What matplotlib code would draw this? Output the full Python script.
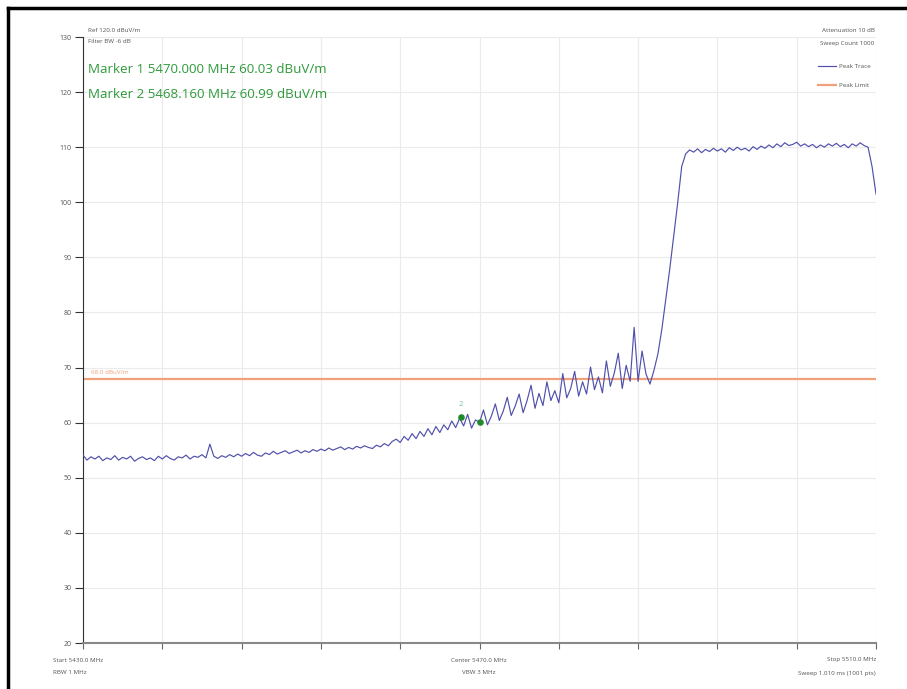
import numpy as np
import matplotlib
matplotlib.use("Agg")
import matplotlib.pyplot as plt
from matplotlib.lines import Line2D

plt.rcParams['font.family'] = ['Open Sans', 'DejaVu Sans']

# ---- data ----
f_start, f_stop = 5430.0, 5510.0
peak_trace = [
    54.1, 53.2, 53.8, 53.4, 53.9, 53.1, 53.6, 53.3, 54.0, 53.2,
    53.7, 53.4, 53.9, 53.0, 53.5, 53.8, 53.3, 53.6, 53.1, 53.9,
    53.4, 54.0, 53.5, 53.2, 53.8, 53.6, 54.1, 53.4, 53.9, 53.7,
    54.2, 53.6, 56.1, 53.9, 53.5, 54.0, 53.7, 54.2, 53.8, 54.3,
    53.9, 54.4, 54.0, 54.6, 54.1, 53.9, 54.5, 54.2, 54.8, 54.3,
    54.6, 54.9, 54.4, 54.7, 55.0, 54.5, 54.9, 54.6, 55.1, 54.8,
    55.2, 54.9, 55.4, 55.0, 55.3, 55.6, 55.1, 55.5, 55.2, 55.7,
    55.4, 55.8, 55.5, 55.3, 55.9, 55.6, 56.2, 55.8, 56.6, 57.0,
    56.4, 57.5, 56.8, 58.0, 57.1, 58.4, 57.5, 58.9, 57.8, 59.3,
    58.2, 59.6, 58.7, 60.3, 59.1, 60.8, 59.4, 61.5, 59.0, 60.5,
    60.0, 62.3, 59.6, 61.2, 63.4, 60.4, 62.1, 64.6, 61.3, 63.0,
    65.2, 61.8, 64.0, 66.8, 62.6, 65.3, 63.1, 67.4, 64.0, 65.8,
    63.6, 68.9, 64.5, 66.2, 69.3, 64.8, 67.4, 65.2, 70.1, 66.0,
    68.3, 65.4, 71.2, 66.6, 69.0, 72.6, 66.2, 70.4, 67.5, 77.3,
    67.5, 73.0, 68.8, 67.0, 69.5, 72.5, 77.0, 82.5, 88.0, 94.0,
    100.0, 106.5, 108.8, 109.5, 109.1, 109.7, 109.0, 109.6, 109.2, 109.8,
    109.3, 109.7, 109.1, 109.9, 109.4, 110.0, 109.5, 109.8, 109.3, 110.1,
    109.6, 110.2, 109.8, 110.4, 109.9, 110.6, 110.1, 110.8, 110.3, 110.5,
    110.9, 110.2, 110.6, 110.1, 110.5, 109.9, 110.4, 110.0, 110.6, 110.2,
    110.7, 110.1, 110.5, 109.9, 110.6, 110.2, 110.8, 110.3, 110.0, 106.5,
    101.5,
]
limit_level = 68.0
marker_freqs = [5470.000, 5468.160]
marker_levels = [60.03, 60.99]
marker_names = ["1", "2"]
y_ticks = [20, 30, 40, 50, 60, 70, 80, 90, 100, 110, 120, 130]

freqs = np.linspace(f_start, f_stop, len(peak_trace))

fig = plt.figure(figsize=(9.07, 6.89), dpi=100)
ax = fig.add_axes([83/907, 46/689, (876-83)/907, (643-37)/689])

ax.plot(freqs, peak_trace, color='#5050ac', lw=0.85, label='Peak Trace', zorder=3)
ax.axhline(limit_level, color='#f0a07a', lw=1.6, label='Peak Limit', zorder=2)
ax.text(5430.8, limit_level + 0.6, '68.0 dBuV/m', color='#f0a07a', fontsize=4.5, va='bottom')

ax.scatter(marker_freqs, marker_levels, color='#1f8a2a', s=14, zorder=5)
ax.text(marker_freqs[1] - 0.1, marker_levels[1] + 1.6, marker_names[1], color='#70c0b0',
        fontsize=5.5, ha='center', va='bottom')

ax.set_xlim(f_start, f_stop)
ax.set_ylim(20, 130)
ax.set_xticks(np.linspace(f_start, f_stop, 11))
ax.set_xticklabels([])
ax.set_yticks(y_ticks)
ax.set_yticklabels([str(v) for v in y_ticks], fontsize=5, color='#555555')
ax.tick_params(axis='y', length=6, width=0.8, color='#333333', pad=2)
ax.tick_params(axis='x', length=4, width=0.8, color='#666666')
ax.grid(True, color='#ebebeb', lw=0.8)
ax.set_axisbelow(True)
for s in ['top', 'right']:
    ax.spines[s].set_visible(False)
ax.spines['left'].set_color('#333333')
ax.spines['bottom'].set_color('#888888')
ax.spines['bottom'].set_linewidth(1.5)

tc = '#555555'
ax.text(0.006, 1.01, 'Ref 120.0 dBuV/m', transform=ax.transAxes, fontsize=4.5, color=tc, va='center')
ax.text(0.006, 0.993, 'Filter BW -6 dB', transform=ax.transAxes, fontsize=4.5, color=tc, va='center')
ax.text(0.006, 0.946, 'Marker 1 5470.000 MHz 60.03 dBuV/m', transform=ax.transAxes,
        fontsize=9.6, color='#2e9a3a', va='center')
ax.text(0.006, 0.905, 'Marker 2 5468.160 MHz 60.99 dBuV/m', transform=ax.transAxes,
        fontsize=9.6, color='#2e9a3a', va='center')
ax.text(0.998, 1.01, 'Attenuation 10 dB', transform=ax.transAxes, fontsize=4.5, color=tc,
        va='center', ha='right')
ax.text(0.998, 0.99, 'Sweep Count 1000', transform=ax.transAxes, fontsize=4.5, color=tc,
        va='center', ha='right')

leg = ax.legend(loc='upper right', bbox_to_anchor=(1.0, 0.965), fontsize=4.5, frameon=False,
                handlelength=3, labelspacing=2.2, handletextpad=0.4)
for t in leg.get_texts():
    t.set_color(tc)

fig.text(53/907, 1 - 660/689, 'Start 5430.0 MHz', fontsize=4.5, color=tc, va='center')
fig.text(53/907, 1 - 673/689, 'RBW 1 MHz', fontsize=4.5, color=tc, va='center')
fig.text(479/907, 1 - 660/689, 'Center 5470.0 MHz', fontsize=4.5, color=tc, va='center', ha='center')
fig.text(479/907, 1 - 673/689, 'VBW 3 MHz', fontsize=4.5, color=tc, va='center', ha='center')
fig.text(876/907, 1 - 660/689, 'Stop 5510.0 MHz', fontsize=4.5, color=tc, va='center', ha='right')
fig.text(876/907, 1 - 673/689, 'Sweep 1.010 ms (1001 pts)', fontsize=4.5, color=tc, va='center', ha='right')

# outer frame
fig.add_artist(Line2D([8/907, 1.0], [1 - 8/689, 1 - 8/689], color='black', lw=2.5,
                      transform=fig.transFigure))
fig.add_artist(Line2D([8/907, 8/907], [0, 1 - 8/689], color='black', lw=2.5,
                      transform=fig.transFigure))

fig.savefig('out.png', dpi=100)
